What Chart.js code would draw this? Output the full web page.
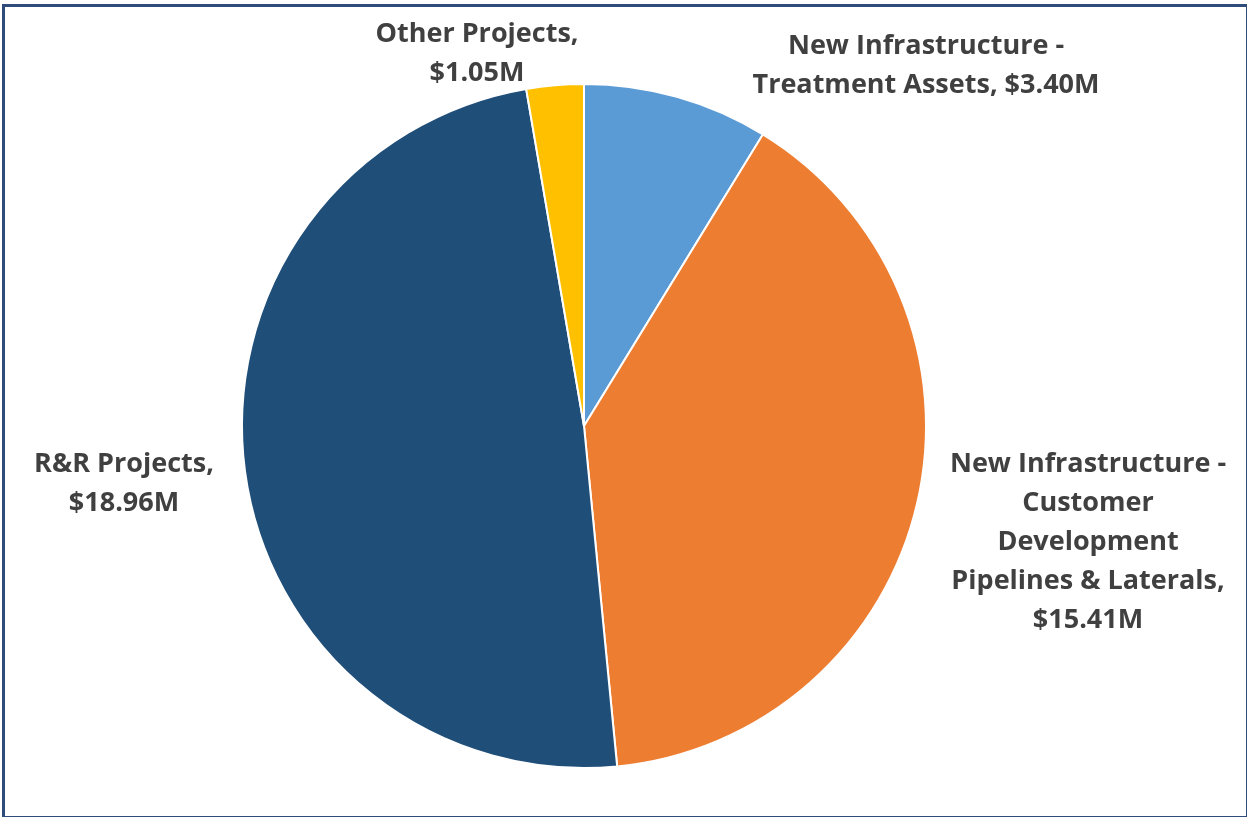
<!DOCTYPE html>
<html>
<head>
<meta charset="utf-8">
<script src="https://cdn.jsdelivr.net/npm/chart.js@4"></script>
<style>
  html, body { margin: 0; padding: 0; background: #fff; }
  #wrap { position: relative; width: 1247px; height: 817px; overflow: hidden; }
  #frame { position: absolute; left: 2px; top: 4px; width: 1241px; height: 809px; border: 3px solid #2f4b7c; pointer-events: none; }
  canvas { position: absolute; left: 0; top: 0; }
</style>
</head>
<body>
<div id="wrap">
  <canvas id="pie" width="1247" height="817"></canvas>
  <div id="frame"></div>
</div>
<script>
"use strict";
// slices in clockwise order from 12 o'clock
const categories = [
  "New Infrastructure - Treatment Assets",
  "New Infrastructure - Customer Development Pipelines & Laterals",
  "R&R Projects",
  "Other Projects"
];
const values = [3.40, 15.41, 18.96, 1.05];
// label text, one array of lines per slice
const labelLines = [
  ["New Infrastructure -", "Treatment Assets, $3.40M"],
  ["New Infrastructure -", "Customer", "Development", "Pipelines & Laterals,", "$15.41M"],
  ["R&R Projects,", "$18.96M"],
  ["Other Projects,", "$1.05M"]
];
const colors = ["#5b9bd5", "#ed7d31", "#1f4e79", "#ffc000"];

// where each label block sits (center x, first line y)
const labelPos = [[926, 46], [1088, 464], [124, 464], [477, 34]];
const LINE_H = 39;

const labels = {
  id: "outLabels",
  afterDraw(chart) {
    const ctx = chart.ctx;
    ctx.save();
    ctx.font = "bold 27px 'Open Sans', Lato, sans-serif";
    ctx.fillStyle = "#404040";
    ctx.textAlign = "center";
    ctx.textBaseline = "middle";
    labelLines.forEach((lines, i) => {
      const [x, y] = labelPos[i];
      lines.forEach((t, j) => ctx.fillText(t, x, y + j * LINE_H));
    });
    ctx.restore();
  }
};

new Chart(document.getElementById("pie"), {
  type: "pie",
  data: {
    labels: categories,
    datasets: [{ data: values, backgroundColor: colors, borderColor: "#fff", borderWidth: 2 }]
  },
  options: {
    responsive: false,
    animation: false,
    layout: { padding: { left: 241, right: 320, top: 82, bottom: 47 } },
    plugins: { legend: { display: false }, tooltip: { enabled: false } }
  },
  plugins: [labels]
});
</script>
</body>
</html>
